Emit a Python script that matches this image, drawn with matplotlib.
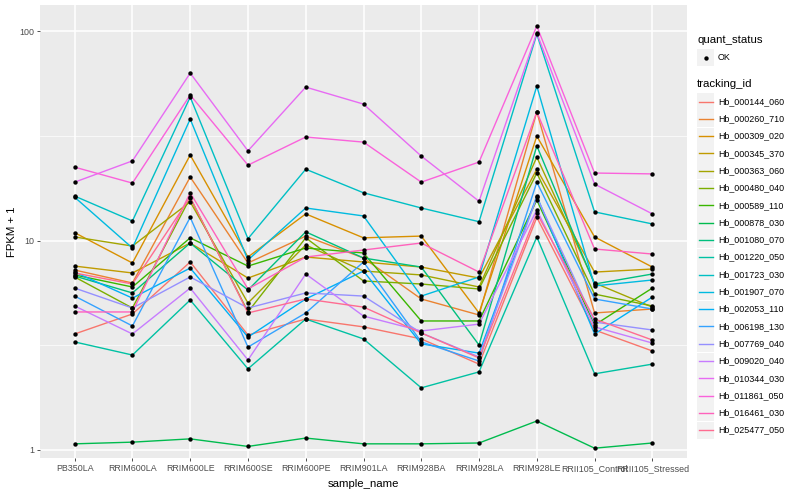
import matplotlib
matplotlib.use('Agg')  # headless

import matplotlib.pyplot as plt
import numpy as np
from matplotlib.patches import Rectangle
from matplotlib.ticker import FixedLocator, NullFormatter

plt.rcParams['font.family'] = ['Liberation Sans', 'DejaVu Sans']

# sample order on the x axis
samples = ['PB350LA', 'RRIM600LA', 'RRIM600LE', 'RRIM600SE', 'RRIM600PE', 'RRIM901LA',
           'RRIM928BA', 'RRIM928LA', 'RRIM928LE', 'RRII105_Control', 'RRII105_Stressed']

tracking_ids = ['Hb_000144_060', 'Hb_000260_710', 'Hb_000309_020', 'Hb_000345_370',
                'Hb_000363_060', 'Hb_000480_040', 'Hb_000589_110', 'Hb_000878_030',
                'Hb_001080_070', 'Hb_001220_050', 'Hb_001723_030', 'Hb_001907_070',
                'Hb_002053_110', 'Hb_006198_130', 'Hb_007769_040', 'Hb_009020_040',
                'Hb_010344_030', 'Hb_011861_050', 'Hb_016461_030', 'Hb_025477_050']

# ggplot default hue palette for 20 levels
colors = ['#F8766D', '#EA8331', '#D89000', '#C09B00', '#A3A500', '#7CAE00', '#39B600',
          '#00BB4E', '#00BF7D', '#00C1A3', '#00BFC4', '#00BAE0', '#00B0F6', '#35A2FF',
          '#9590FF', '#C77CFF', '#E76BF3', '#FA62DB', '#FF62BC', '#FF6C91']

# FPKM + 1 (one list per gene, in sample order)
hb_000144_060 = [3.58, 4.46, 7.90, 3.54, 4.22, 3.87, 3.39, 2.57, 12.9, 3.74, 2.97]
hb_000260_710 = [7.23, 6.27, 20.1, 7.81, 10.5, 8.25, 5.26, 4.41, 41.1, 4.51, 4.71]
hb_000309_020 = [10.9, 7.81, 25.6, 8.34, 13.4, 10.3, 10.5, 4.51, 31.5, 10.4, 7.47]
hb_000345_370 = [7.55, 7.00, 9.73, 6.62, 8.34, 7.90, 7.47, 6.62, 21.9, 7.07, 7.31]
hb_000363_060 = [10.4, 9.41, 15.3, 5.03, 9.52, 7.15, 6.85, 6.00, 25.0, 6.27, 4.81]
hb_000480_040 = [6.70, 4.76, 16.0, 4.56, 10.3, 6.41, 6.20, 5.87, 21.0, 5.55, 4.87]
hb_000589_110 = [6.85, 6.00, 10.3, 7.55, 9.21, 8.72, 4.13, 4.13, 15.6, 3.95, 5.93]
hb_000878_030 = [1.07, 1.09, 1.13, 1.04, 1.14, 1.07, 1.07, 1.08, 1.375, 1.02, 1.08]
hb_001080_070 = [6.77, 5.62, 9.73, 5.80, 11.0, 8.25, 7.47, 3.17, 28.3, 6.20, 6.92]
hb_001220_050 = [3.28, 2.84, 5.20, 2.44, 4.22, 3.39, 1.98, 2.36, 10.4, 2.31, 2.57]
hb_001723_030 = [16.3, 12.4, 48.4, 10.2, 21.9, 16.9, 14.3, 12.3, 96.7, 13.7, 12.0]
hb_001907_070 = [16.1, 9.21, 38.0, 8.07, 14.3, 13.1, 5.43, 6.70, 54.6, 6.07, 6.48]
hb_002053_110 = [7.07, 5.31, 7.39, 3.46, 5.26, 7.15, 3.21, 2.90, 16.3, 3.58, 5.37]
hb_006198_130 = [5.43, 3.91, 12.9, 3.10, 4.51, 7.90, 3.28, 2.66, 19.0, 5.26, 4.71]
hb_007769_040 = [5.93, 4.76, 6.70, 4.76, 5.62, 5.43, 3.62, 2.78, 16.1, 4.08, 3.74]
hb_009020_040 = [4.87, 3.58, 5.93, 2.69, 6.92, 4.36, 3.70, 3.99, 14.0, 3.87, 3.24]
hb_010344_030 = [19.0, 24.0, 63.0, 26.8, 54.0, 44.8, 25.3, 15.4, 97.8, 18.6, 13.4]
hb_011861_050 = [22.4, 18.8, 49.5, 22.9, 31.2, 29.5, 19.0, 23.7, 105.6, 21.0, 20.8]
hb_016461_030 = [4.56, 4.56, 16.9, 5.87, 8.34, 9.01, 9.73, 7.07, 41.1, 9.11, 8.62]
hb_025477_050 = [7.00, 6.20, 16.1, 4.51, 5.26, 4.81, 3.62, 2.75, 13.5, 4.22, 3.35]

series = [hb_000144_060, hb_000260_710, hb_000309_020, hb_000345_370, hb_000363_060,
          hb_000480_040, hb_000589_110, hb_000878_030, hb_001080_070, hb_001220_050,
          hb_001723_030, hb_001907_070, hb_002053_110, hb_006198_130, hb_007769_040,
          hb_009020_040, hb_010344_030, hb_011861_050, hb_016461_030, hb_025477_050]

W, H = 800, 500
fig = plt.figure(figsize=(8, 5), dpi=100)
fig.patch.set_facecolor('white')

# panel placed in pixel terms
px_l, px_r, px_t, px_b = 40, 687, 5, 458
ax = fig.add_axes([px_l / W, 1 - px_b / H, (px_r - px_l) / W, (px_b - px_t) / H])
ax.set_facecolor('#EBEBEB')

x = np.arange(len(samples))
for vals, col in zip(series, colors):
    ax.plot(x, vals, color=col, lw=1.0, zorder=3)
for vals in series:
    ax.scatter(x, vals, s=10, color='black', zorder=4, linewidths=0)

ax.set_yscale('log')
# expansion in log space (top like ggplot's 5%, bottom a bit tighter)
allv = np.log10(np.concatenate([np.array(s) for s in series]))
lo, hi = allv.min(), allv.max()
pad = 0.05 * (hi - lo)
ax.set_ylim(10 ** (lo - 0.465 * pad), 10 ** (hi + pad))
ax.set_xlim(-0.6, len(samples) - 0.4)

ax.yaxis.set_major_locator(FixedLocator([1, 10, 100]))
ax.yaxis.set_minor_locator(FixedLocator([10 ** 0.5, 10 ** 1.5]))
ax.yaxis.set_minor_formatter(NullFormatter())
ax.set_yticklabels(['1', '10', '100'])
ax.set_xticks(x)
ax.set_xticklabels(samples)

ax.grid(which='major', color='white', lw=1.1, zorder=1)
ax.grid(which='minor', axis='y', color='white', lw=0.5, zorder=1)
ax.set_axisbelow(True)
for sp in ax.spines.values():
    sp.set_visible(False)

ax.tick_params(which='major', length=2.2, width=0.6, color='#333333',
               labelsize=6.4, labelcolor='#4D4D4D', pad=2)
ax.tick_params(which='minor', length=0)

ax.set_xlabel('sample_name', fontsize=8.2, color='black')
ax.set_ylabel('FPKM + 1', fontsize=8.2, color='black')
ax.xaxis.set_label_coords(0.5, -0.047)
ax.yaxis.set_label_coords(-0.036, 0.5)

# legend drawn by hand in a pixel-coordinate overlay
lg = fig.add_axes([0, 0, 1, 1], facecolor='none')
lg.set_xlim(0, W)
lg.set_ylim(H, 0)
lg.axis('off')

lg.text(697, 40, 'quant_status', fontsize=8.2, va='center', ha='left')
lg.add_patch(Rectangle((697, 49), 17, 17, facecolor='#F2F2F2', edgecolor='none'))
lg.scatter([705.5], [57.5], s=10, color='black', linewidths=0)
lg.text(718, 57.5, 'OK', fontsize=6.4, va='center', ha='left')

lg.text(697, 84, 'tracking_id', fontsize=8.2, va='center', ha='left')
for i, (name, col) in enumerate(zip(tracking_ids, colors)):
    yc = 101.5 + 17.3 * i
    lg.add_patch(Rectangle((697, yc - 8.5), 17, 17, facecolor='#F2F2F2', edgecolor='none'))
    lg.plot([698.5, 712.5], [yc, yc], color=col, lw=1.0)
    lg.text(718, yc, name, fontsize=6.4, va='center', ha='left')

plt.savefig('out.png', dpi=100)
plt.close()
